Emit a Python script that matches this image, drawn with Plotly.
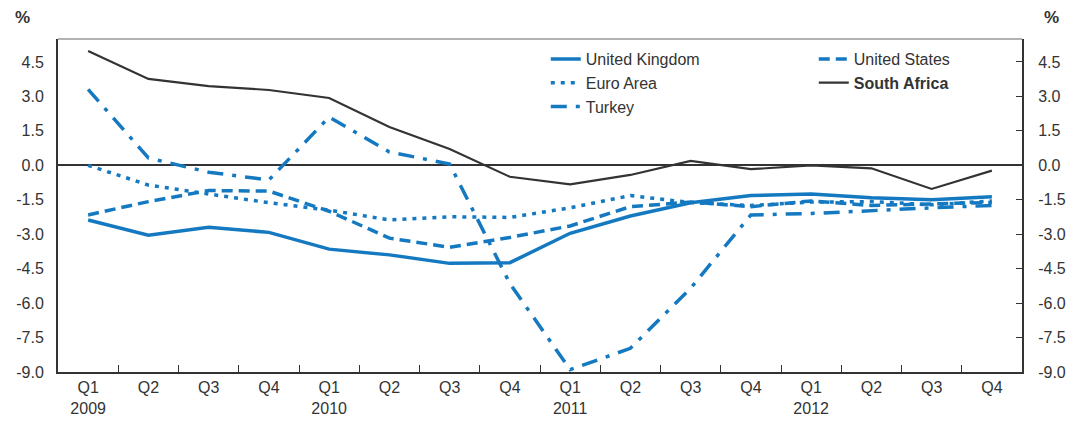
import plotly.graph_objects as go

quarters = ["Q1", "Q2", "Q3", "Q4"] * 4
years = ["2009", "", "", "", "2010", "", "", "", "2011", "", "", "", "2012", "", "", ""]
tick_labels = [q + ("<br>" + y if y else "") for q, y in zip(quarters, years)]

united_kingdom = [-2.38, -3.04, -2.70, -2.92, -3.65, -3.90, -4.27, -4.24, -2.96, -2.21, -1.63, -1.32, -1.25, -1.41, -1.50, -1.37]
united_states = [-2.16, -1.58, -1.10, -1.12, -2.00, -3.17, -3.57, -3.14, -2.64, -1.80, -1.60, -1.80, -1.55, -1.75, -1.68, -1.62]
euro_area = [0.00, -0.86, -1.25, -1.63, -1.95, -2.38, -2.24, -2.27, -1.85, -1.32, -1.62, -1.75, -1.60, -1.58, -1.72, -1.55]
turkey = [3.31, 0.32, -0.30, -0.64, 2.10, 0.58, 0.06, -5.15, -8.90, -7.97, -5.35, -2.16, -2.10, -1.97, -1.85, -1.75]
south_africa = [4.98, 3.76, 3.45, 3.28, 2.93, 1.67, 0.71, -0.50, -0.83, -0.42, 0.19, -0.17, 0.00, -0.13, -1.03, -0.23]

y_ticks = [4.5, 3.0, 1.5, 0.0, -1.5, -3.0, -4.5, -6.0, -7.5, -9.0]
y_tick_text = ["4.5", "3.0", "1.5", "0.0", "-1.5", "-3.0", "-4.5", "-6.0", "-7.5", "-9.0"]

BLUE = "#1479C0"
DARK = "#333333"
FONT = "Liberation Sans, Arial, sans-serif"

x = list(range(len(tick_labels)))

fig = go.Figure()
fig.add_trace(go.Scatter(x=x, y=united_kingdom, name="United Kingdom", mode="lines",
                         line=dict(color=BLUE, width=3.5), legend="legend"))
fig.add_trace(go.Scatter(x=x, y=euro_area, name="Euro Area", mode="lines",
                         line=dict(color=BLUE, width=3.5, dash="4px,6px"), legend="legend"))
fig.add_trace(go.Scatter(x=x, y=turkey, name="Turkey", mode="lines",
                         line=dict(color=BLUE, width=3.5, dash="16px,9px,4px,9px"), legend="legend"))
fig.add_trace(go.Scatter(x=x, y=united_states, name="United States", mode="lines",
                         line=dict(color=BLUE, width=3.5, dash="11px,6px"), legend="legend2"))
fig.add_trace(go.Scatter(x=x, y=south_africa, name="<b>South Africa</b>", mode="lines",
                         line=dict(color=DARK, width=2.2), legend="legend2"))
# invisible trace to drive right axis
fig.add_trace(go.Scatter(x=x, y=south_africa, yaxis="y2", mode="lines",
                         line=dict(width=0), showlegend=False, hoverinfo="skip", opacity=0))

yrange = [-9.0, 5.5]
fig.update_layout(
    width=1068, height=421,
    margin=dict(l=58, r=46, t=39, b=49, autoexpand=False),
    paper_bgcolor="white", plot_bgcolor="white",
    font=dict(family=FONT, size=16, color=DARK),
    showlegend=True,
    legend=dict(x=0.506, y=0.991, xanchor="left", yanchor="top", bgcolor="rgba(0,0,0,0)",
                font=dict(size=16, color=DARK), tracegroupgap=0, itemwidth=30),
    legend2=dict(x=0.784, y=0.991, xanchor="left", yanchor="top", bgcolor="rgba(0,0,0,0)",
                 font=dict(size=16, color=DARK), tracegroupgap=0, itemwidth=30),
    xaxis=dict(range=[-0.5, len(x) - 0.5], tickvals=x, ticktext=tick_labels,
               ticks="", showgrid=False, zeroline=False, showline=True,
               linecolor=DARK, linewidth=2, mirror=False, automargin=False,
               tickfont=dict(size=16, color=DARK),
               minor=dict(tickvals=[i + 0.5 for i in x[:-1]], ticks="inside",
                          ticklen=7, tickwidth=1, tickcolor=DARK)),
    yaxis=dict(range=yrange, tickvals=y_ticks, ticktext=y_tick_text, ticks="",
               showgrid=False, zeroline=True, zerolinecolor=DARK, zerolinewidth=2,
               showline=True, linecolor=DARK, linewidth=2, automargin=False,
               ticklabelstandoff=9,
               tickfont=dict(size=16, color=DARK)),
    yaxis2=dict(range=yrange, tickvals=y_ticks, ticktext=y_tick_text, overlaying="y",
                side="right", ticks="inside", ticklen=6, tickcolor=DARK,
                showgrid=False, zeroline=False, showline=True, linecolor=DARK,
                linewidth=2, automargin=False, ticklabelstandoff=11,
                tickfont=dict(size=16, color=DARK)),
    shapes=[dict(type="line", xref="paper", yref="paper", x0=0, x1=1, y0=1, y1=1,
                 line=dict(color="#999999", width=1.5))],
    annotations=[
        dict(text="<b>%</b>", xref="paper", yref="paper", x=-0.037, y=1.03,
             xanchor="center", yanchor="bottom", showarrow=False, font=dict(size=17, color=DARK)),
        dict(text="<b>%</b>", xref="paper", yref="paper", x=1.031, y=1.03,
             xanchor="center", yanchor="bottom", showarrow=False, font=dict(size=17, color=DARK)),
    ],
)

fig.write_html("out.html",
               config={"displayModeBar": False},
               post_script="document.body.style.margin='0';"
                           "document.documentElement.style.overflow='hidden';")
